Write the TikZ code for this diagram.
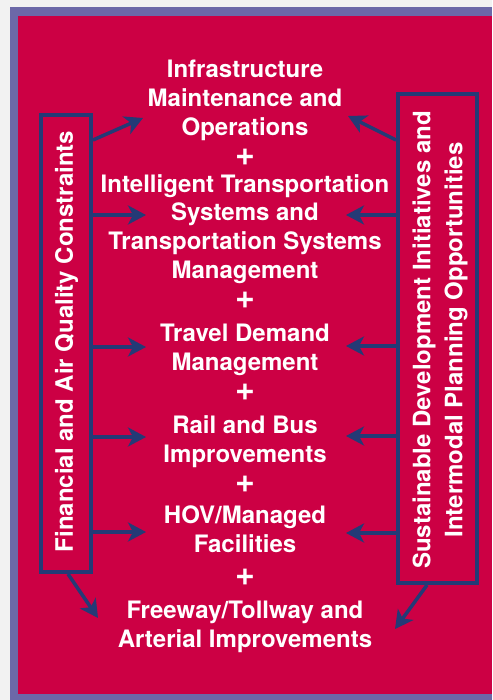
\documentclass[tikz,border=0pt]{standalone}
\usepackage{fontspec}
\setmainfont{TeX Gyre Heros}
\usetikzlibrary{arrows.meta,positioning}
\definecolor{crimson}{HTML}{CC0044}
\definecolor{framecol}{HTML}{6C68A8}
\definecolor{navy}{HTML}{243A76}
\definecolor{margincol}{HTML}{F2F2F2}

\begin{document}
\begin{tikzpicture}[x=1pt,y=-1pt,
    item/.style={text=white,font=\bfseries\fontsize{24}{28.8}\selectfont,align=center,inner sep=0pt},
    plus/.style={text=white,font=\bfseries\fontsize{34}{34}\selectfont,inner sep=0pt},
    sidebox/.style={draw=navy,line width=4pt,inner sep=0pt},
    link/.style={navy,line width=3.5pt,-{Stealth[length=18pt,width=19pt,inset=5pt]}}]

      % background and frame
      \useasboundingbox (0,0) rectangle (492,700);
      \fill[margincol] (0,0) rectangle (492,700);
      \fill[framecol] (10,7) rectangle (492,700);
      \fill[crimson] (18,16) rectangle (492,694);

      % side boxes
      \node[sidebox,minimum width=50pt,minimum height=457pt] (lbox) at (66,343.5) {};
      \node[sidebox,minimum width=79pt,minimum height=489pt] (rbox) at (437.5,338.5) {};

      \node[item,rotate=90] (fin) at (66.5,341.5) {Financial and Air Quality Constraints};
      \node[item,rotate=90,font=\bfseries\fontsize{24}{32}\selectfont] (sust) at (440,340)
           {Sustainable Development Initiatives and\\Intermodal Planning Opportunities};

      % the measures
      \node[item] (infra) at (245,100.5) {Infrastructure\\Maintenance and\\Operations};
      \node[plus] (p1) at (245,157) {+};
      \node[item] (its) at (245,229) {Intelligent Transportation\\Systems and\\Transportation Systems\\Management};
      \node[plus] (p2) at (245,300) {+};
      \node[item] (tdm) at (245,349.5) {Travel Demand\\Management};
      \node[plus] (p3) at (245,392) {+};
      \node[item] (rail) at (245,441.5) {Rail and Bus\\Improvements};
      \node[plus] (p4) at (245,484) {+};
      \node[item] (hov) at (245,529) {HOV/Managed\\Facilities};
      \node[plus] (p5) at (245,577) {+};
      \node[item] (fwy) at (245,627) {Freeway/Tollway and\\Arterial Improvements};

      % arrow tips
      \coordinate (l1) at (143,118);
      \coordinate (l2) at (146,215);
      \coordinate (l3) at (146,347);
      \coordinate (l4) at (146,437);
      \coordinate (l5) at (146,532);
      \coordinate (l6) at (98,618);
      \coordinate (r1) at (348,116);
      \coordinate (r2) at (346,215);
      \coordinate (r3) at (346,346);
      \coordinate (r4) at (346,436);
      \coordinate (r5) at (346,533);
      \coordinate (r6) at (395,629);

      \draw[link] (lbox.east |- 0,140) -- (l1);
      \foreach \i in {2,...,5}
        \draw[link] (lbox.east |- l\i) -- (l\i);
      \draw[link] (lbox.south -| 68,0) -- (l6);

      \draw[link] (rbox.west |- 0,140) -- (r1);
      \foreach \i in {2,...,5}
        \draw[link] (rbox.west |- r\i) -- (r\i);
      \draw[link] (rbox.south -| 427,0) -- (r6);
    \end{tikzpicture}
\end{document}
